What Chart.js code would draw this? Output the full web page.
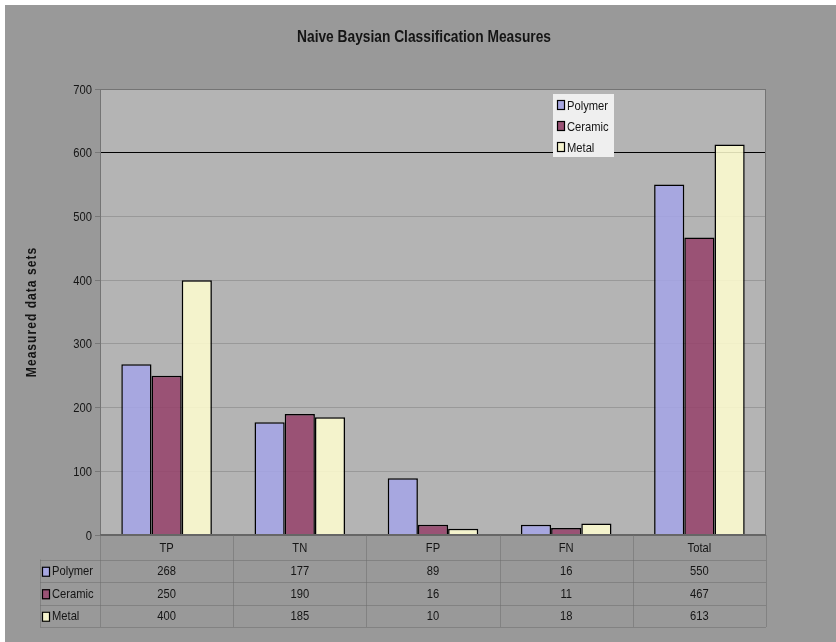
<!DOCTYPE html>
<html>
<head>
<meta charset="utf-8">
<script src="https://cdn.jsdelivr.net/npm/chart.js@4.4.0/dist/chart.umd.min.js"></script>
<style>
  html, body { margin: 0; padding: 0; background: #fff; }
  #wrap { width: 836px; height: 642px; }
</style>
</head>
<body>
<div id="wrap"><canvas id="graph"></canvas></div>
<script>
// données
const categories = ["TP", "TN", "FP", "FN", "Total"];
const seriesNames = ["Polymer", "Ceramic", "Metal"];
const polymer = [268, 177, 89, 16, 550];
const ceramic = [250, 190, 16, 11, 467];
const metal = [400, 185, 10, 18, 613];
const yTicks = [0, 100, 200, 300, 400, 500, 600, 700];
const titre = "Naive Baysian Classification Measures";
const titreY = "Measured data sets";

const police = "'Liberation Sans', Arial, sans-serif";
const serre = 0.86; // le texte de l'original est un peu écrasé en largeur
// couleurs des barres (un peu transparentes, la grille passe dessous)
const couleurs = ["rgba(164,164,232,0.85)", "rgba(149,65,106,0.85)", "rgba(255,254,208,0.85)"];
// couleurs vues, pour les petits carrés
const couleursVues = ["#a6a6e0", "#9a5275", "#f5f3cd"];

function ligne(ctx, x1, y1, x2, y2) {
    ctx.beginPath();
    ctx.moveTo(x1, y1);
    ctx.lineTo(x2, y2);
    ctx.stroke();
}

function carre(ctx, x, yc, couleur) {
    ctx.fillStyle = couleur;
    ctx.fillRect(x, yc - 5, 8, 10);
    ctx.strokeStyle = "#000";
    ctx.lineWidth = 1.2;
    ctx.strokeRect(x + 0.5, yc - 4.5, 7, 9);
}

// texte resserré horizontalement
function texte(ctx, t, x, y, align, font) {
    ctx.save();
    ctx.font = font || "13px " + police;
    ctx.fillStyle = "#151515";
    ctx.textAlign = align || "center";
    ctx.textBaseline = "middle";
    ctx.translate(x, y);
    ctx.scale(serre, 1);
    ctx.fillText(t, 0, 0);
    ctx.restore();
}

// fond gris, zone de tracé, cadre
const fondPlugin = {
    id: "fond",
    beforeDraw(chart) {
        const { ctx, chartArea: a } = chart;
        ctx.save();
        ctx.fillStyle = "#fff";
        ctx.fillRect(0, 0, chart.width, chart.height);
        ctx.fillStyle = "#999999";
        ctx.fillRect(5, 5, chart.width - 5, chart.height - 5);
        ctx.fillStyle = "#b4b4b4";
        ctx.fillRect(a.left, a.top, a.right - a.left, a.bottom - a.top);
        ctx.restore();
    },
    afterDatasetsDraw(chart) {
        const { ctx, chartArea: a } = chart;
        ctx.save();
        ctx.strokeStyle = "#747474";
        ctx.lineWidth = 1;
        ligne(ctx, a.left + 0.5, a.top, a.left + 0.5, a.bottom);
        ligne(ctx, a.right - 0.5, a.top, a.right - 0.5, a.bottom);
        ligne(ctx, a.left, a.top + 0.5, a.right, a.top + 0.5);
        ctx.strokeStyle = "#666";
        ctx.lineWidth = 2;
        ligne(ctx, a.left, a.bottom, a.right, a.bottom);
        ctx.restore();
    }
};

// titre, étiquettes de l'axe Y, titre de l'axe Y
const textesPlugin = {
    id: "textes",
    afterDraw(chart) {
        const { ctx, chartArea: a } = chart;
        const y = chart.scales.y;
        texte(ctx, titre, chart.width / 2 + 6, 38, "center", "bold 16px " + police);
        y.ticks.forEach(t => {
            texte(ctx, String(t.value), a.left - 8, y.getPixelForValue(t.value) + 1, "right");
        });
        ctx.save();
        ctx.translate(32, (a.top + a.bottom) / 2);
        ctx.rotate(-Math.PI / 2);
        ctx.scale(serre, 1);
        ctx.font = "bold 14px " + police;
        ctx.letterSpacing = "1.2px";
        ctx.textAlign = "center";
        ctx.textBaseline = "middle";
        ctx.fillStyle = "#151515";
        ctx.fillText(titreY, 0, 0);
        ctx.restore();
    }
};

// tableau de données sous le graphique
const tableauPlugin = {
    id: "tableau",
    afterDraw(chart) {
        const { ctx, chartArea: a } = chart;
        const x = chart.scales.x;
        const n = categories.length;
        const colW = (a.right - a.left) / n;
        const gauche = 40;
        const lignes = [a.bottom, a.bottom + 24.5, a.bottom + 47, a.bottom + 69.5, a.bottom + 92];
        const series = [polymer, ceramic, metal];

        ctx.save();
        ctx.strokeStyle = "rgba(112,112,112,0.55)";
        ctx.lineWidth = 1;
        for (let i = 1; i < lignes.length; i++) {
            ligne(ctx, gauche, Math.round(lignes[i]) + 0.5, a.right, Math.round(lignes[i]) + 0.5);
        }
        for (let i = 0; i <= n; i++) {
            const xx = Math.round(a.left + i * colW) + 0.5;
            ligne(ctx, xx, a.bottom, xx, lignes[4]);
        }
        ligne(ctx, gauche + 0.5, lignes[1], gauche + 0.5, lignes[4]);
        ctx.restore();

        categories.forEach((c, i) => {
            texte(ctx, c, x.getPixelForValue(i), (lignes[0] + lignes[1]) / 2 + 1);
        });
        series.forEach((vals, r) => {
            const yc = (lignes[r + 1] + lignes[r + 2]) / 2 + 1;
            vals.forEach((v, i) => texte(ctx, String(v), x.getPixelForValue(i), yc));
            carre(ctx, 42, yc, couleursVues[r]);
            texte(ctx, seriesNames[r], 52, yc, "left");
        });
    }
};

// légende dans la zone de tracé
const legendePlugin = {
    id: "legende",
    afterDraw(chart) {
        const { ctx, chartArea: a } = chart;
        const bx = a.right - 213, by = a.top + 5;
        ctx.save();
        ctx.fillStyle = "#efefef";
        ctx.fillRect(bx, by, 61, 63);
        ctx.restore();
        seriesNames.forEach((nom, i) => {
            const yc = by + 11 + i * 21;
            carre(ctx, bx + 4, yc, couleursVues[i]);
            texte(ctx, nom, bx + 14, yc + 1, "left");
        });
    }
};

const ctx = document.getElementById("graph").getContext("2d");

new Chart(ctx, {
    type: "bar",
    data: {
        labels: categories,
        datasets: [polymer, ceramic, metal].map((vals, i) => ({
            label: seriesNames[i],
            data: vals,
            backgroundColor: couleurs[i],
            borderColor: "#000",
            borderWidth: 1.5,
            categoryPercentage: 0.68,
            barPercentage: 1.0
        }))
    },
    options: {
        responsive: true,
        maintainAspectRatio: false,
        animation: false,
        layout: { padding: { left: 0, right: 70, top: 89, bottom: 107 } },
        plugins: {
            legend: { display: false },
            tooltip: { enabled: false },
            title: { display: false }
        },
        scales: {
            x: { display: false },
            y: {
                min: 0,
                max: 700,
                afterFit: s => { s.width = 100; },
                afterBuildTicks: s => { s.ticks = yTicks.map(v => ({ value: v })); },
                ticks: { display: false },
                border: { display: false },
                grid: {
                    color: c => (c.tick && c.tick.value === 600 ? "#000" : "rgba(120,120,120,0.45)"),
                    tickColor: "#777",
                    tickLength: 5
                }
            }
        }
    },
    plugins: [fondPlugin, textesPlugin, tableauPlugin, legendePlugin]
});
</script>
</body>
</html>
